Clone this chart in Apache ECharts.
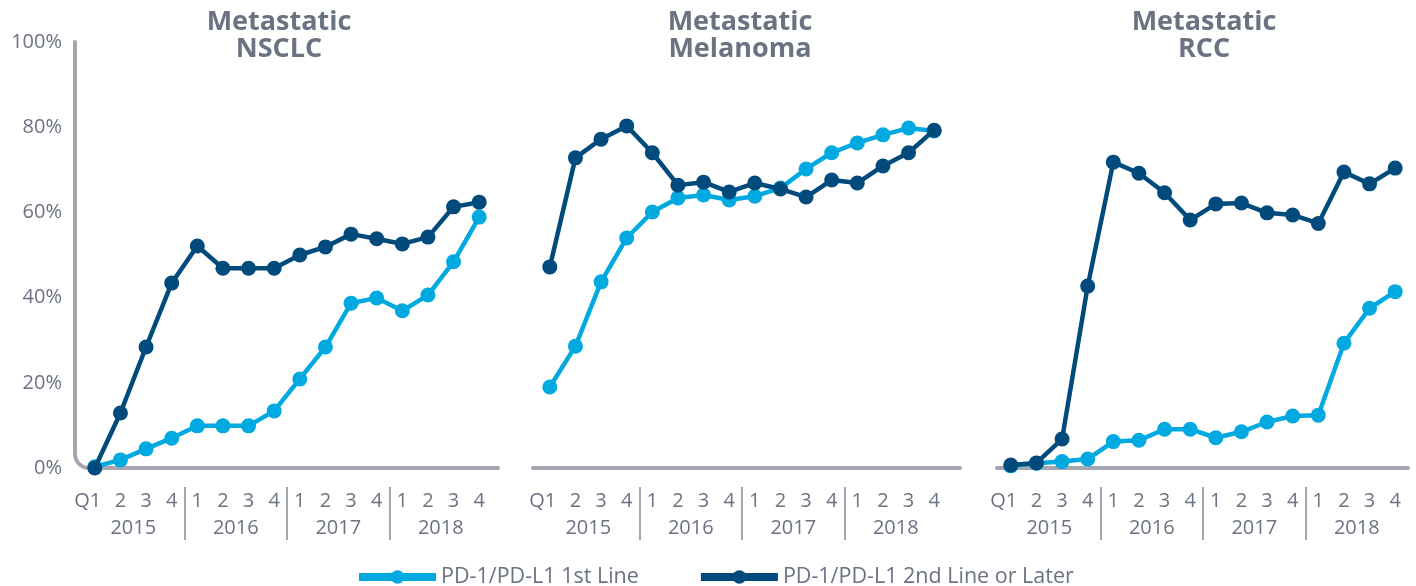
<!DOCTYPE html>
<html style="height: 100%" lang="en">

<head>
  <meta charset="utf-8">
  <script type="text/javascript" src="https://cdn.jsdelivr.net/npm/echarts@6/dist/echarts.min.js"></script>
</head>

<body style="height: 100%; margin: 0; background: #fff">
  <div id="container" style="height: 100%"></div>
  <script type="text/javascript">
    // data
    var quarters = ['Q1', '2', '3', '4', '1', '2', '3', '4', '1', '2', '3', '4', '1', '2', '3', '4'];
    var years = ['2015', '2016', '2017', '2018'];
    var panelTitles = ['Metastatic\nNSCLC', 'Metastatic\nMelanoma', 'Metastatic\nRCC'];
    var seriesNames = ['PD-1/PD-L1 1st Line', 'PD-1/PD-L1 2nd Line or Later'];

    var nsclcFirst = [0.3, 1.9, 4.5, 7.0, 9.9, 9.9, 9.9, 13.4, 20.9, 28.4, 38.7, 39.9, 36.9, 40.6, 48.4, 58.9];
    var nsclcSecond = [0, 12.9, 28.4, 43.4, 52.1, 46.9, 46.9, 46.9, 50.0, 51.9, 54.9, 53.8, 52.6, 54.2, 61.3, 62.4];
    var melFirst = [19.0, 28.6, 43.7, 54.0, 60.1, 63.4, 64.1, 62.9, 63.8, 65.7, 70.2, 74.0, 76.3, 78.2, 79.8, 79.1];
    var melSecond = [47.2, 72.8, 77.2, 80.3, 74.0, 66.4, 67.1, 64.8, 66.9, 65.5, 63.6, 67.6, 66.9, 70.9, 74.0, 79.3];
    var rccFirst = [0.5, 1.1, 1.5, 2.1, 6.2, 6.5, 9.1, 9.1, 7.1, 8.5, 10.8, 12.2, 12.4, 29.3, 37.5, 41.4];
    var rccSecond = [0.7, 1.2, 6.8, 42.7, 71.8, 69.2, 64.6, 58.2, 62.0, 62.2, 59.9, 59.4, 57.4, 69.5, 66.7, 70.4];

    var panelData = [[nsclcFirst, nsclcSecond], [melFirst, melSecond], [rccFirst, rccSecond]];

    // layout
    var gridLefts = [82, 537, 998];
    var gridWidth = 410;
    var gridTop = 42;
    var gridBottomY = 468;
    var lineLeft = [75, 533, 997];
    var lineRight = [498, 960, 1408];
    var titleX = [274, 735, 1199]; // title adds 5px padding

    var colors = ['#00a9e0', '#004a7c'];
    var textColor = '#6b7282';
    var axisGray = '#a5a7b0';
    var font = '"Open Sans", sans-serif';

    var dom = document.getElementById("container");
    var myChart = echarts.init(dom);

    var grid = [], xAxis = [], yAxis = [], series = [], title = [], graphic = [];
    var lineStyle = { stroke: axisGray, lineWidth: 4, lineCap: 'round' };

    for (var p = 0; p < 3; p++) {
      grid.push({
        left: gridLefts[p],
        width: gridWidth,
        top: gridTop,
        height: gridBottomY - gridTop,
        outerBoundsMode: 'none'
      });
      title.push({
        text: panelTitles[p],
        left: titleX[p],
        top: 4,
        textAlign: 'center',
        textStyle: {
          fontFamily: font,
          fontSize: 27,
          fontWeight: 'bold',
          lineHeight: 27,
          color: textColor
        }
      });
      // quarter labels
      xAxis.push({
        type: 'category',
        gridIndex: p,
        position: 'bottom',
        data: quarters,
        boundaryGap: true,
        axisLine: { show: false, onZero: false },
        axisTick: { show: false },
        axisLabel: {
          interval: 0,
          margin: 23,
          fontFamily: font,
          fontSize: 20,
          color: textColor,
          formatter: function(v, i) {
            return i === 0 ? '{q|' + v + '}' : v;
          },
          rich: {
            q: { fontFamily: font, fontSize: 20, color: textColor, padding: [0, 14, 0, 0] }
          }
        }
      });
      // year labels
      xAxis.push({
        type: 'category',
        gridIndex: p,
        position: 'bottom',
        data: years,
        boundaryGap: true,
        axisLine: { show: false, onZero: false },
        axisTick: { show: false },
        axisLabel: {
          interval: 0,
          margin: 50,
          fontFamily: font,
          fontSize: 20,
          color: textColor
        }
      });
      // year separators
      xAxis.push({
        type: 'category',
        gridIndex: p,
        position: 'bottom',
        data: ['a', 'b', 'c', 'd', 'e'],
        boundaryGap: false,
        offset: 19,
        axisLine: { show: false, onZero: false },
        axisLabel: { show: false },
        axisTick: {
          show: true,
          length: 53,
          interval: function(i) {
            return i > 0 && i < 4;
          },
          lineStyle: { color: axisGray, width: 2 }
        }
      });
      yAxis.push({
        type: 'value',
        gridIndex: p,
        min: 0,
        max: 100,
        interval: 20,
        show: p === 0,
        axisLine: { show: false },
        axisTick: { show: false },
        splitLine: { show: false },
        axisLabel: {
          margin: 20,
          fontFamily: font,
          fontSize: 20,
          color: textColor,
          formatter: '{value}%'
        }
      });
      for (var s = 0; s < 2; s++) {
        series.push({
          name: seriesNames[s],
          type: 'line',
          xAxisIndex: p * 3,
          yAxisIndex: p,
          data: panelData[p][s],
          symbol: 'circle',
          symbolSize: 15,
          showSymbol: true,
          color: colors[s],
          lineStyle: { width: 4.5, color: colors[s] },
          itemStyle: { color: colors[s] },
          z: 2 + s,
          animation: false
        });
      }
      // axis lines (panel 1 has the rounded corner)
      if (p === 0) {
        var r = 14;
        graphic.push({
          type: 'line', z: 0,
          shape: { x1: lineLeft[0], y1: gridTop, x2: lineLeft[0], y2: gridBottomY - r },
          style: lineStyle
        });
        graphic.push({
          type: 'arc', z: 0,
          shape: { cx: lineLeft[0] + r, cy: gridBottomY - r, r: r, startAngle: Math.PI / 2, endAngle: Math.PI, clockwise: true },
          style: { stroke: axisGray, lineWidth: 4, fill: null }
        });
        graphic.push({
          type: 'line', z: 0,
          shape: { x1: lineLeft[0] + r, y1: gridBottomY, x2: lineRight[0], y2: gridBottomY },
          style: lineStyle
        });
      } else {
        graphic.push({
          type: 'line', z: 0,
          shape: { x1: lineLeft[p], y1: gridBottomY, x2: lineRight[p], y2: gridBottomY },
          style: lineStyle
        });
      }
    }

    var option = {
      backgroundColor: '#fff',
      title: title,
      legend: {
        data: seriesNames,
        top: 561,
        left: 350,
        itemWidth: 77,
        itemHeight: 17,
        itemGap: 58,
        lineStyle: { width: 8 },
        textStyle: { fontFamily: font, fontSize: 21.5, color: textColor }
      },
      grid: grid,
      xAxis: xAxis,
      yAxis: yAxis,
      graphic: graphic,
      series: series
    };
    myChart.setOption(option);
  </script>
</body>

</html>
